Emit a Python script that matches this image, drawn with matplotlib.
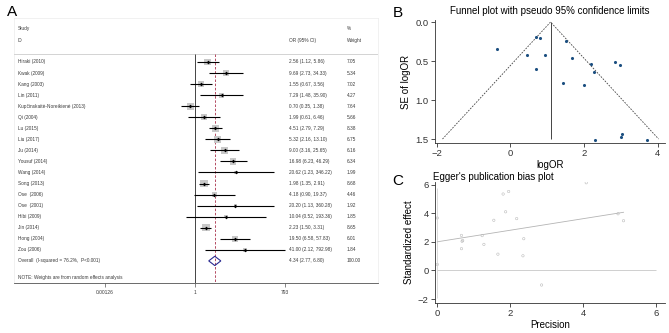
import numpy as np
import matplotlib.pyplot as plt
from matplotlib.patches import Polygon

plt.rcParams['font.family'] = ['Liberation Sans', 'DejaVu Sans']

# Study data
studies = ['Hiraki (2010)', 'Kwak (2009)', 'Kang (2003)', 'Lin (2011)',
           'Kupčinskaitė-Noreikienė (2013)', 'Qi (2004)', 'Lu (2015)', 'Liu (2017)',
           'Ju (2014)', 'Yousuf (2014)', 'Wang (2014)', 'Song (2013)', 'Ose  (2006)',
           'Ose  (2001)', 'Hibi (2009)', 'Jin (2014)', 'Hong (2004)', 'Zou (2006)']
odds = [2.56, 9.69, 1.55, 7.29, 0.70, 1.99, 4.51, 5.32, 9.00, 16.98,
        20.62, 1.98, 4.18, 20.20, 10.04, 2.23, 19.50, 41.00]
lower = [1.12, 2.73, 0.67, 1.48, 0.35, 0.61, 2.79, 2.16, 3.16, 6.23,
         1.23, 1.35, 0.90, 1.13, 0.52, 1.50, 6.58, 2.12]
upper = [5.86, 34.33, 3.56, 35.90, 1.38, 6.46, 7.29, 13.10, 25.65, 46.29,
         346.22, 2.91, 19.37, 360.28, 193.36, 3.31, 57.83, 792.98]
weights = [7.05, 5.34, 7.02, 4.27, 7.64, 5.66, 8.38, 6.75, 6.16, 6.34,
           1.99, 8.68, 4.46, 1.92, 1.85, 8.65, 6.01, 1.84]
overall = [4.34, 2.77, 6.80]
overall_weight = 100.00
overall_label = 'Overall  (I-squared = 76.2%,  P<0.001)'
note = 'NOTE: Weights are from random effects analysis'
forest_ticks = [0.00126, 1, 793]
forest_ticklabels = ['0.00126', '1', '793']

# funnel plot settings
funnel_center = 1.09
funnel_se_max = 1.5

# Egger plot: intercept confidence interval markers
egger_ci = [0.42, 3.68]

W, H = 669, 333
fig = plt.figure(figsize=(W / 100, H / 100), dpi=100)


def px_axes(x0, y0, x1, y1):
    return fig.add_axes([x0 / W, 1 - y1 / H, (x1 - x0) / W, (y1 - y0) / H])


txt = '#3a3a3a'

# faint outline of the forest plot region
frame = px_axes(14, 18, 378, 283)
frame.set_xticks([])
frame.set_yticks([])
frame.patch.set_alpha(0)
for s in frame.spines.values():
    s.set_color('#ececec')
    s.set_linewidth(0.5)

# ---------------- A: forest plot ----------------
ax = px_axes(14, 20, 378, 283)
ax.set_xscale('log')
ax.set_xlim(np.exp(-13.43), np.exp(13.58))
ax.set_ylim(20, -3.8)
ax.patch.set_alpha(0)
for s in ['top', 'left', 'right']:
    ax.spines[s].set_visible(False)
ax.spines['bottom'].set_color('#555555')
ax.spines['bottom'].set_linewidth(0.6)
ax.set_yticks([])
ax.set_xticks(forest_ticks)
ax.set_xticklabels(forest_ticklabels)
ax.minorticks_off()
ax.tick_params(axis='x', labelsize=3.5, length=3, width=0.5, pad=2, colors='#555555', labelcolor=txt)

ax.axhline(-0.72, color='#cccccc', lw=0.6)
ax.vlines(1, -0.72, 20, color='#444444', lw=0.7)
ax.vlines(overall[0], -0.72, 20, color='#a8304a', lw=0.6, linestyles=(0, (3, 2)))

rows = np.arange(len(studies))
ax.hlines(rows, lower, upper, color='black', lw=0.8, zorder=3)
ax.scatter(odds, rows, s=np.array(weights) * 3.3, marker='s', color='#c8c8c8', lw=0, zorder=2)
ax.scatter(odds, rows, s=3.5, marker='D', color='black', lw=0, zorder=4)

r = len(studies)
d = Polygon([[overall[1], r], [overall[0], r - 0.42], [overall[2], r], [overall[0], r + 0.42]],
            closed=True, fill=False, edgecolor='#2a2a90', lw=0.8, zorder=4)
ax.add_patch(d)

tf = ax.get_yaxis_transform()
fs = 3.4
x_name, x_or, x_w = 0.011, 0.755, 0.915
ax.text(x_name, -2.99, 'Study', transform=tf, fontsize=fs, color=txt, va='center')
ax.text(x_name, -1.9, 'ID', transform=tf, fontsize=fs, color=txt, va='center')
ax.text(x_or, -1.9, 'OR (95% CI)', transform=tf, fontsize=fs, color=txt, va='center')
ax.text(x_w, -2.99, '%', transform=tf, fontsize=fs, color=txt, va='center')
ax.text(x_w, -1.9, 'Weight', transform=tf, fontsize=fs, color=txt, va='center')
for i, name in enumerate(studies):
    ax.text(x_name, i, name, transform=tf, fontsize=fs, color=txt, va='center')
    ax.text(x_or, i, '%.2f (%.2f, %.2f)' % (odds[i], lower[i], upper[i]),
            transform=tf, fontsize=fs, color=txt, va='center')
    ax.text(x_w, i, '%.2f' % weights[i], transform=tf, fontsize=fs, color=txt, va='center')
ax.text(x_name, r, overall_label, transform=tf, fontsize=fs, color=txt, va='center')
ax.text(x_or, r, '%.2f (%.2f, %.2f)' % tuple(overall), transform=tf, fontsize=fs, color=txt, va='center')
ax.text(x_w, r, '%.2f' % overall_weight, transform=tf, fontsize=fs, color=txt, va='center')
ax.text(x_name, 19.46, note, transform=tf, fontsize=fs, color=txt, va='center')

fig.text(12 / W, 1 - 12 / H, 'A', fontsize=11, ha='center', va='center')

# ---------------- B: funnel plot ----------------
log_or = np.log(odds)
se = (np.log(upper) - np.log(lower)) / (2 * 1.96)

axb = px_axes(435, 20, 665, 143)
axb.set_xlim(-2.054, 4.204)
axb.set_ylim(1.551, -0.026)
axb.plot([funnel_center - 1.96 * funnel_se_max, funnel_center, funnel_center + 1.96 * funnel_se_max],
         [funnel_se_max, 0, funnel_se_max], color='#444444', lw=0.6, dashes=(2, 1.5))
axb.vlines(funnel_center, 0, funnel_se_max, color='#444444', lw=0.7)
axb.scatter(log_or, se, s=5, color='#1c4f80', lw=0, zorder=3)
axb.set_xticks([-2, 0, 2, 4])
axb.set_yticks([0, 0.5, 1.0, 1.5])
axb.set_yticklabels(['0.0', '0.5', '1.0', '1.5'])
axb.set_title('Funnel plot with pseudo 95% confidence limits', fontsize=7.0, pad=4)
axb.set_xlabel('logOR', fontsize=7.0, labelpad=1)
axb.set_ylabel('SE of logOR', fontsize=7.0, labelpad=3)
fig.text(398 / W, 1 - 13 / H, 'B', fontsize=11, ha='center', va='center')

# ---------------- C: Egger plot ----------------
prec = 1 / se
z = log_or / se
slope, icpt = np.polyfit(prec, z, 1)

axc = px_axes(435, 182, 665, 303)
axc.set_xlim(-0.063, 6.24)
axc.set_ylim(-2.28, 6.2)
axc.hlines(0, 0, 6, color='#c8c8c8', lw=0.6)
axc.vlines(0, -1.9, 5.8, color='#d4d4d4', lw=0.6)
axc.plot([0, prec.max()], [icpt, icpt + slope * prec.max()], color='#b4b4b4', lw=0.6)
axc.scatter([0, 0], egger_ci, s=3, facecolor='none', edgecolor='#bbbbbb', lw=0.4)
axc.scatter(prec, z, s=3, facecolor='none', edgecolor='#bbbbbb', lw=0.4)
axc.set_xticks([0, 2, 4, 6])
axc.set_yticks([-2, 0, 2, 4, 6])
axc.set_title("Egger's publication bias plot", fontsize=7.0, pad=1, loc='left', x=-0.01)
axc.set_xlabel('Precision', fontsize=7.0, labelpad=1)
axc.set_ylabel('Standardized effect', fontsize=7.0, labelpad=3)
fig.text(398 / W, 1 - 181 / H, 'C', fontsize=11, ha='center', va='center')

for a in (axb, axc):
    for s in ['top', 'right']:
        a.spines[s].set_visible(False)
    for s in ['left', 'bottom']:
        a.spines[s].set_linewidth(0.6)
        a.spines[s].set_color('#333333')
    a.tick_params(labelsize=6.8, length=3, width=0.6, pad=1.5, colors='#333333')

fig.savefig('out.png', dpi=100)
